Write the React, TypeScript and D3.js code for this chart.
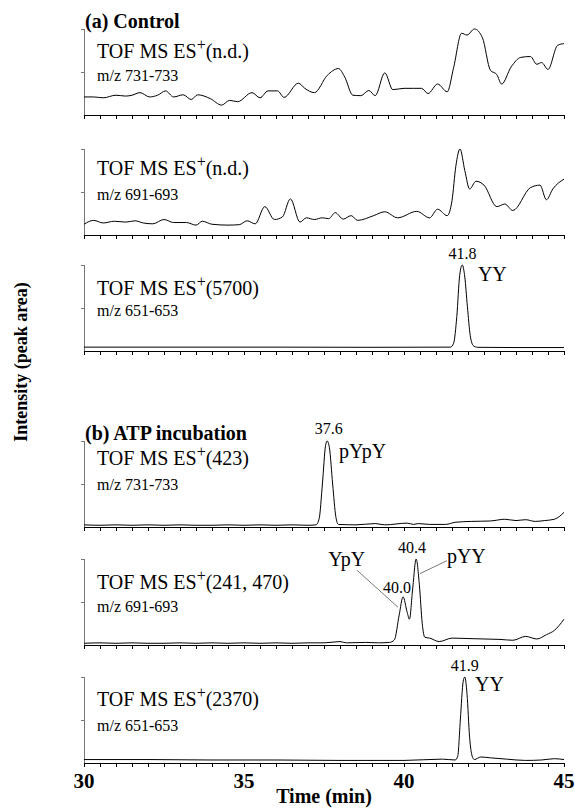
import React, { useEffect, useRef } from 'react';
import * as d3 from 'd3';

type Pt = [number, number];

// x axis (retention time, min)
const timeTicks = d3.range(30, 45.001, 0.5);
const timeLabels = [30, 35, 40, 45];

// (a) control, relative intensity (% of panel full scale)
const ctrl731: Pt[] = [[30.0,21],[30.3,21],[30.6,20],[31.0,23],[31.3,22],[31.5,23],[31.75,26],[32.05,21],[32.3,23],[32.55,28],[32.8,21],[33.1,23.5],[33.35,18],[33.55,23.5],[33.95,19],[34.3,11.5],[34.55,17],[34.8,15.5],[35.25,26],[35.5,20],[35.75,28],[36.05,28],[36.25,20.5],[36.7,37],[36.9,31],[37.2,26],[37.6,46],[37.95,54],[38.15,44],[38.4,23],[38.65,22.5],[38.9,28.5],[39.1,22.5],[39.4,49],[39.65,29.5],[40.0,31],[40.3,31],[40.55,31],[40.75,25],[41.05,36],[41.35,27],[41.55,55],[41.8,95],[41.97,93],[42.2,100],[42.45,90],[42.7,52],[42.9,47],[43.05,36],[43.35,56],[43.65,67],[43.95,68],[44.15,59],[44.3,61],[44.5,53],[44.8,81],[45.0,83]];
const ctrl691: Pt[] = [[30.0,12.5],[30.3,17],[30.6,14],[30.95,16],[31.3,15],[31.6,16.5],[31.85,14],[32.15,13],[32.5,18],[32.8,14.5],[33.2,14.5],[33.5,11.5],[33.7,16],[34.0,12.5],[34.5,11.5],[34.85,12],[35.1,16.5],[35.35,13],[35.65,33],[35.95,18],[36.2,21],[36.45,42],[36.75,15],[36.95,20],[37.2,18],[37.45,20],[37.65,19],[37.85,26],[38.1,18.5],[38.35,22.5],[38.55,17],[39.05,22.5],[39.4,27],[39.8,20],[40.4,27.5],[40.8,20],[41.05,30],[41.35,22.5],[41.5,40],[41.62,80],[41.75,100],[41.9,75],[42.05,53.5],[42.25,62.5],[42.5,58],[42.9,33],[43.15,36],[43.4,28.5],[43.95,55],[44.25,58],[44.45,41],[44.65,53.5],[45.0,65]];
const ctrl651: Pt[] = [[30,4.5],[33,4.5],[36,4.5],[39,4.3],[41.45,4.5],[41.55,9],[41.65,40],[41.74,88],[41.82,100],[41.9,86],[41.98,52],[42.07,18],[42.17,6],[42.3,4.3],[43.5,4],[45,4]];

// (b) ATP incubation
const atp731: Pt[] = [[30,2.5],[30.5,2],[31,2.5],[31.5,2],[32,2.5],[32.5,2],[33,2.5],[33.5,2],[34,2],[34.5,2.5],[35,2],[35.5,2.5],[36,2],[36.5,2.5],[37,2],[37.25,2.5],[37.35,10],[37.45,50],[37.55,95],[37.6,100],[37.67,92],[37.77,50],[37.87,12],[37.95,3],[38.5,2.5],[39.1,4],[39.4,2.5],[40.1,4.5],[40.3,3],[40.45,4],[40.8,3],[41.3,3],[41.6,5.5],[42.1,6.5],[42.7,7],[43.15,9],[43.5,7.5],[43.8,8.5],[44.1,6.5],[44.4,7.5],[44.7,9],[45,17]];
const atp691: Pt[] = [[30,2],[30.5,2.5],[31,2],[31.5,2.5],[32,2],[32.5,2],[33,2.5],[33.5,2],[34,2.5],[34.5,2],[35,2.5],[35.5,2],[36,2.5],[36.5,2],[37,2.5],[37.5,2.5],[38.0,4],[38.2,2.5],[38.8,3],[39.2,2.5],[39.55,3],[39.7,6],[39.85,35],[39.97,56],[40.1,38],[40.17,30],[40.27,65],[40.38,100],[40.48,70],[40.57,25],[40.65,9],[40.8,8],[41.1,4],[41.5,8],[42.0,7.5],[42.5,7],[43.0,6.5],[43.4,5.5],[43.8,10],[44.15,7],[44.45,12],[44.7,17],[45,30]];
const atp651: Pt[] = [[30,4],[32,4],[34,3.5],[36,3.5],[38,3],[40,3],[41.2,4.5],[41.6,3.5],[41.68,8],[41.76,50],[41.85,95],[41.9,100],[41.97,80],[42.05,30],[42.13,8],[42.2,4],[42.4,7],[42.7,6],[43.2,4.5],[43.8,3],[44.3,3.5],[44.7,5],[45,4]];

const series = [ctrl731, ctrl691, ctrl651, atp731, atp691, atp651];
const groupTitles = ['(a) Control', '', '', '(b) ATP incubation', '', ''];
const countLabels = ['(n.d.)', '(n.d.)', '(5700)', '(423)', '(241, 470)', '(2370)'];
const mzLabels = ['m/z 731-733', 'm/z 691-693', 'm/z 651-653', 'm/z 731-733', 'm/z 691-693', 'm/z 651-653'];

// peak annotations: panel, time, intensity (%), text
const peakNumbers = [
  { p: 2, t: 41.83, v: 107, text: '41.8' },
  { p: 3, t: 37.65, v: 108, text: '37.6' },
  { p: 4, t: 39.78, v: 60, text: '40.0' },
  { p: 4, t: 40.25, v: 107, text: '40.4' },
  { p: 5, t: 41.9, v: 107, text: '41.9' },
];
const peakNames = [
  { p: 2, t: 42.31, v: 81, text: 'YY' },
  { p: 3, t: 37.97, v: 80, text: 'pYpY' },
  { p: 4, t: 37.63, v: 92, text: 'YpY' },
  { p: 4, t: 41.34, v: 95, text: 'pYY' },
  { p: 5, t: 42.22, v: 84, text: 'YY' },
];
const leaders = [
  { p: 4, from: [38.53, 87], to: [39.81, 44] },
  { p: 4, from: [41.34, 98], to: [40.5, 83] },
];

const FONT = '"Liberation Serif", "Times New Roman", serif';

const App = () => {
  const ref = useRef<SVGSVGElement>(null);

  useEffect(() => {
    const width = 575;
    const height = 808;
    const svg = d3.select(ref.current);
    svg.selectAll('*').remove();
    svg.attr('width', width).attr('height', height).style('font-family', FONT);

    const x = d3.scaleLinear().domain([30, 45]).range([84, 564]);
    const axisY = [115, 235, 351, 527, 645, 763];
    const panelH = 86;
    const tofDy = [29, 26, 30, 24, 30, 29];
    const mzDy = [52, 51, 51, 49, 53, 54];

    series.forEach((data, i) => {
      const y = d3.scaleLinear().domain([0, 100]).range([axisY[i], axisY[i] - panelH]);
      const g = svg.append('g');
      const top = y(100);

      // left axis (grey) with ticks
      g.append('line')
        .attr('x1', x(30) + 0.5).attr('x2', x(30) + 0.5)
        .attr('y1', y(0)).attr('y2', top)
        .attr('stroke', '#777').attr('stroke-width', 1);
      [50, 100].forEach(v => {
        g.append('line')
          .attr('x1', x(30) - 3).attr('x2', x(30))
          .attr('y1', Math.round(y(v)) + 0.5).attr('y2', Math.round(y(v)) + 0.5)
          .attr('stroke', '#777');
      });

      // bottom axis
      const axis = d3.axisBottom(x).tickValues(timeTicks).tickSize(4).tickFormat(() => '');
      const ax = g.append('g')
        .attr('transform', `translate(0,${y(0)})`)
        .call(axis);
      ax.select('.domain').attr('stroke', '#000').attr('d', `M${x(30)},0.5H${x(45)}`);
      ax.selectAll('.tick line').attr('stroke', '#000');

      // trace
      const line = d3.line<Pt>()
        .x(d => x(d[0]))
        .y(d => y(d[1]))
        .curve(d3.curveMonotoneX);
      g.append('path')
        .datum(data)
        .attr('d', line)
        .attr('fill', 'none')
        .attr('stroke', '#000')
        .attr('stroke-width', 1);

      // group title
      if (groupTitles[i]) {
        g.append('text')
          .attr('x', 85).attr('y', top - 1)
          .attr('font-size', 20).attr('font-weight', 'bold')
          .text(groupTitles[i]);
      }

      // TOF label
      const tof = g.append('text')
        .attr('x', 97).attr('y', top + tofDy[i])
        .attr('font-size', 20);
      tof.append('tspan').text('TOF MS ES');
      tof.append('tspan').attr('font-size', 16).attr('dy', -8).text('+');
      tof.append('tspan').attr('dy', 8).text(countLabels[i]);

      g.append('text')
        .attr('x', 97).attr('y', top + mzDy[i])
        .attr('font-size', 16)
        .text(mzLabels[i]);

      peakNumbers.filter(d => d.p === i).forEach(d => {
        g.append('text')
          .attr('x', x(d.t)).attr('y', y(d.v))
          .attr('text-anchor', 'middle')
          .attr('font-size', 16)
          .text(d.text);
      });
      peakNames.filter(d => d.p === i).forEach(d => {
        g.append('text')
          .attr('x', x(d.t)).attr('y', y(d.v))
          .attr('font-size', 20)
          .text(d.text);
      });
      leaders.filter(d => d.p === i).forEach(d => {
        g.append('line')
          .attr('x1', x(d.from[0])).attr('y1', y(d.from[1]))
          .attr('x2', x(d.to[0])).attr('y2', y(d.to[1]))
          .attr('stroke', '#555').attr('stroke-width', 0.8);
      });
    });

    // time labels
    svg.append('g')
      .selectAll('text')
      .data(timeLabels)
      .join('text')
      .attr('x', d => x(d))
      .attr('y', 788)
      .attr('text-anchor', 'middle')
      .attr('font-size', 21)
      .attr('font-weight', 'bold')
      .text(d => d);

    svg.append('text')
      .attr('x', (x(30) + x(45)) / 2)
      .attr('y', 803)
      .attr('text-anchor', 'middle')
      .attr('font-size', 20)
      .attr('font-weight', 'bold')
      .text('Time (min)');

    svg.append('text')
      .attr('transform', 'translate(27,362) rotate(-90)')
      .attr('text-anchor', 'middle')
      .attr('font-size', 18)
      .attr('font-weight', 'bold')
      .text('Intensity (peak area)');
  }, []);

  return (
    <div style={{ position: 'absolute', left: 0, top: 0 }}>
      <svg ref={ref} />
    </div>
  );
};

export default App;
